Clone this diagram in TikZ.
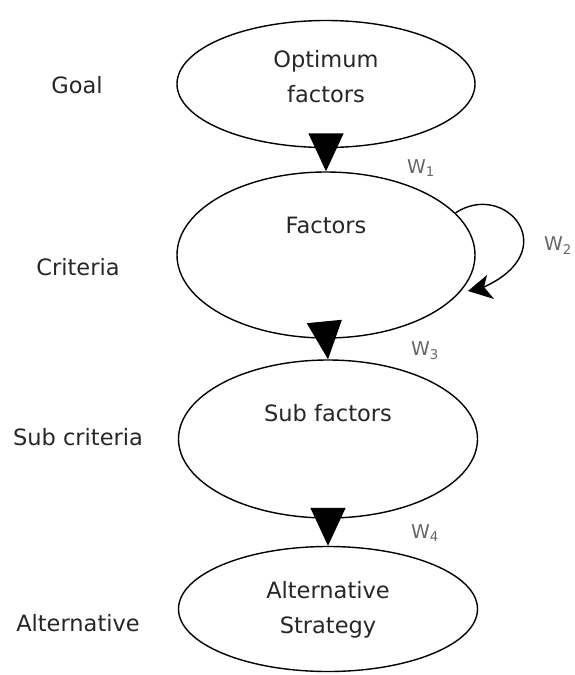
\documentclass[tikz,border=0pt]{standalone}
\usepackage{fontspec}
\setmainfont{DejaVu Sans}
\usetikzlibrary{shapes.geometric,arrows.meta}
\begin{document}
\begin{tikzpicture}[x=1pt,y=-1pt,
    stage/.style={draw,ellipse,line width=1.4pt,inner sep=0pt},
    txt/.style={font=\fontsize{22.5}{35}\selectfont,align=center,text=black!85},
    lvl/.style={font=\fontsize{22.5}{27}\selectfont,text=black!85},
    wt/.style={font=\fontsize{19}{22}\selectfont,text=black!60},
    down/.style={line width=1.4pt,-{Triangle[width=35pt,length=38pt]}}]
  \useasboundingbox (0,0) rectangle (574,675);
  % levels
  \draw
    (77,85) node[lvl] (goal){Goal}
    (78,267) node[lvl] (crit){Criteria}
    (78,437) node[lvl] (subcrit){Sub criteria}
    (78,623) node[lvl] (alt){Alternative};
  % hierarchy
  \node[stage,minimum width=298pt,minimum height=127pt] (opt) at (326,84) {};
  \node[stage,minimum width=298pt,minimum height=166pt] (fac) at (326,255) {};
  \node[stage,minimum width=299pt,minimum height=158pt] (sub) at (328,439) {};
  \node[stage,minimum width=299pt,minimum height=125pt] (strat) at (328,609) {};
  \draw
    (326,77) node[txt] (opttxt){Optimum\\factors}
    (326,225) node[txt] (factxt){Factors}
    (328,413) node[txt] (subtxt){Sub factors}
    (328,610) node[txt] (strattxt){Alternative\\Strategy};
  \begin{scope}[down]
    \draw (opt.south) to (fac.north);
    \draw (fac.south) to (sub.north);
    \draw (sub.south) to (strat.north);
  \end{scope}
  % self loop
  \coordinate (looptip) at (468,291);
  \coordinate (loopend) at (484,287);
  \draw[line width=1.4pt]
    (fac.18) .. controls (505,180) and (565,250) .. (loopend);
  \fill (looptip) -- (487,275) -- (loopend) -- (494,299) -- cycle;
  % weights
  \draw
    (421,168) node[wt] (w1){W\textsubscript{1}}
    (558,246) node[wt] (w2){W\textsubscript{2}}
    (425,351) node[wt] (w3){W\textsubscript{3}}
    (425,533) node[wt] (w4){W\textsubscript{4}};
\end{tikzpicture}
\end{document}
